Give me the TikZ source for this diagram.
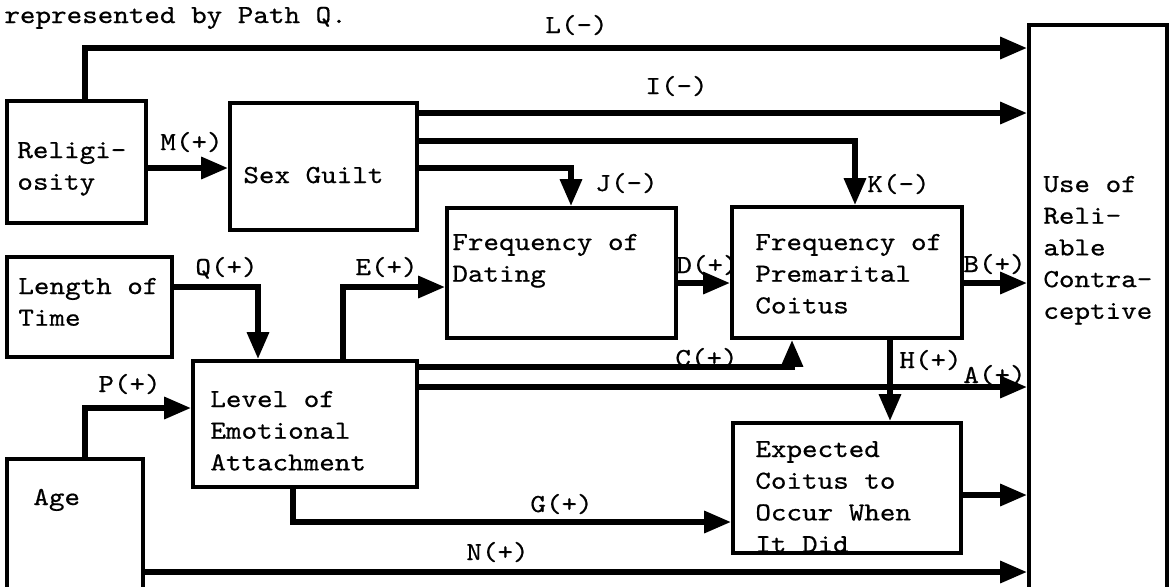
\documentclass[tikz,border=0pt]{standalone}
\usepackage{fontspec}
\setmainfont{lmmono10-regular.otf}[FakeStretch=1.14,FakeBold=0.6]
\usetikzlibrary{arrows.meta,fit}
\newcommand\mlines[1]{\begin{tabular}[t]{@{}l@{}}#1\end{tabular}}
\begin{document}
\begin{tikzpicture}[x=0.5pt,y=-0.5pt,
  box/.style={draw, line width=1.8pt, inner sep=0pt},
  txt/.style={anchor=base west, inner sep=0pt, font=\fontsize{13}{15.85}\selectfont},
  conn/.style={line width=3pt, -{Triangle[length=13.5pt,width=10.5pt]}}]
\useasboundingbox (0,0) rectangle (1169,586);
\clip (0,0) rectangle (1169,586);
% boxes
\node[box, fit={(7,101) (146,223)}] (rel) {};
\node[box, fit={(230,103) (417,230)}] (sg) {};
\node[box, fit={(7,257) (172,357)}] (len) {};
\node[box, fit={(193,361) (417,487)}] (level) {};
\node[box, fit={(7,459) (143,600)}] (age) {};
\node[box, fit={(447,208) (676,338)}] (dating) {};
\node[box, fit={(732,207) (962,338)}] (prem) {};
\node[box, fit={(733,423) (961,553)}] (exp) {};
\node[box, fit={(1029,25) (1167,600)}] (use) {};
% box texts
\node[txt] (title) at (4,23) {represented by Path Q.};
\node[txt] (relt) at (17,158) {\mlines{Religi-\\osity}};
\node[txt] (sgt) at (243,183) {Sex Guilt};
\node[txt] (lent) at (18,294) {\mlines{Length of\\Time}};
\node[txt] (levelt) at (210,407) {\mlines{Level of\\Emotional\\Attachment}};
\node[txt] (aget) at (33,505) {Age};
\node[txt] (datingt) at (452,250) {\mlines{Frequency of\\Dating}};
\node[txt] (premt) at (755,250) {\mlines{Frequency of\\Premarital\\Coitus}};
\begin{scope}
\clip (exp.north west) rectangle (exp.south east);
\node[txt] (expt) at (755,457) {\mlines{Expected\\Coitus to\\Occur When\\It Did}};
\end{scope}
\node[txt] (uset) at (1043,192) {\mlines{Use of\\Reli-\\able\\Contra-\\ceptive}};
% connectors
\draw[conn] (rel.north -| 85,0) -- (85,48) -- (use.west |- 0,48);
\draw[conn] (rel.east |- 0,168) -- (sg.west |- 0,168);
\draw[conn] (sg.east |- 0,113) -- (use.west |- 0,113);
\draw[conn] (sg.east |- 0,141) -- (855,141) -- (prem.north -| 855,0);
\draw[conn] (sg.east |- 0,168) -- (571,168) -- (dating.north -| 571,0);
\draw[conn] (dating.east |- 0,283) -- (prem.west |- 0,283);
\draw[conn] (prem.east |- 0,283) -- (use.west |- 0,283);
\draw[conn] (len.east |- 0,287) -- (258,287) -- (level.north -| 258,0);
\draw[conn] (level.north -| 343,0) -- (343,287) -- (dating.west |- 0,287);
\draw[conn] (level.east |- 0,367) -- (792,367) -- (prem.south -| 792,0);
\draw[conn] (level.east |- 0,387) -- (use.west |- 0,387);
\draw[conn] (prem.south -| 890,0) -- (exp.north -| 890,0);
\draw[conn] (age.north -| 85,0) -- (85,408) -- (level.west |- 0,408);
\draw[conn] (level.south -| 293,0) -- (293,522) -- (exp.west |- 0,522);
\draw[conn] (exp.east |- 0,495) -- (use.west |- 0,495);
\draw[conn] (age.east |- 0,572) -- (use.west |- 0,572);
% connector labels
\node[txt] (lL) at (545,33) {L(-)};
\node[txt] (lI) at (645,94) {I(-)};
\node[txt] (lM) at (160,150) {M(+)};
\node[txt] (lJ) at (595,191) {J(-)};
\node[txt] (lK) at (867,192) {K(-)};
\node[txt] (lQ) at (195,275) {Q(+)};
\node[txt] (lE) at (355,275) {E(+)};
\node[txt] (lD) at (676,273) {D(+)};
\node[txt] (lB) at (963,272) {B(+)};
\node[txt] (lC) at (675,366) {C(+)};
\node[txt] (lH) at (899,368) {H(+)};
\node[txt] (lA) at (963,383) {A(+)};
\node[txt] (lP) at (98,392) {P(+)};
\node[txt] (lG) at (530,512) {G(+)};
\node[txt] (lN) at (466,560) {N(+)};
\end{tikzpicture}
\end{document}
